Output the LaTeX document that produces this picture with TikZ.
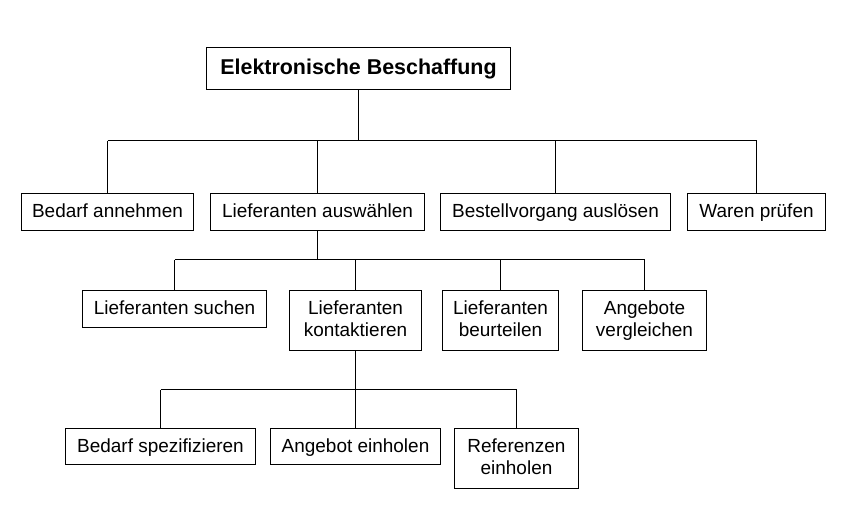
\documentclass[tikz,border=0pt]{standalone}
\usepackage{fontspec}
\setmainfont{Liberation Sans}
\begin{document}
\begin{tikzpicture}[x=0.02cm, y=-0.02cm, line width=0.57pt,
		box/.style={draw, anchor=north, inner sep=0pt, align=center, text depth=0.08cm, font=\fontsize{10.8}{12.5}\selectfont},
		onel/.style={box, text height=0.30cm, minimum height=0.76cm},
		twol/.style={box, minimum height=1.22cm}]
			\useasboundingbox (0,0) rectangle (849,507);
			% Wurzel
			\node[box, text height=0.32cm, minimum width=6.1cm, minimum height=0.86cm, font=\fontsize{12.2}{14}\selectfont\bfseries] (root) at (358.5,46.5) {Elektronische Beschaffung};
			
			% Ebene 1
			\node[onel, minimum width=3.46cm] (bedarf) at (107.5,192.5) {Bedarf annehmen};
			\node[onel, minimum width=4.28cm] (auswahl) at (317.5,192.5) {Lieferanten auswählen};
			\node[onel, minimum width=4.62cm] (bestell) at (555.5,192.5) {Bestellvorgang auslösen};
			\node[onel, minimum width=2.76cm] (waren) at (756.5,192.5) {Waren prüfen};
			
			% Ebene 2
			\node[onel, minimum width=3.68cm] (suchen) at (174.5,289.5) {Lieferanten suchen};
			\node[twol, minimum width=2.66cm] (kontakt) at (355.5,289.5) {Lieferanten\\kontaktieren};
			\node[twol, minimum width=2.34cm] (beurteil) at (500.5,289.5) {Lieferanten\\beurteilen};
			\node[twol, minimum width=2.50cm] (vergleich) at (644.5,289.5) {Angebote\\vergleichen};
			
			% Ebene 3
			\node[onel, minimum width=3.82cm, minimum height=0.74cm] (spezif) at (160.5,427.5) {Bedarf spezifizieren};
			\node[onel, minimum width=3.42cm, minimum height=0.74cm] (angebot) at (355.5,427.5) {Angebot einholen};
			\node[twol, minimum width=2.48cm] (referenz) at (516.5,427.5) {Referenzen\\einholen};
			
			\coordinate (bus1) at (0,140.5);
			\coordinate (bus2) at (0,259.5);
			\coordinate (bus3) at (0,389.5);
			
			% Verbindungen
			\draw (root.south) -- (root.south |- bus1) (bedarf.north |- bus1) -- (waren.north |- bus1)
				foreach \c in {bedarf, auswahl, bestell, waren} {(\c.north) -- (\c.north |- bus1)};
			\draw (auswahl.south) -- (auswahl.south |- bus2) (suchen.north |- bus2) -- (vergleich.north |- bus2)
				foreach \c in {suchen, kontakt, beurteil, vergleich} {(\c.north) -- (\c.north |- bus2)};
			\draw (kontakt.south) -- (kontakt.south |- bus3) (spezif.north |- bus3) -- (referenz.north |- bus3)
				foreach \c in {spezif, angebot, referenz} {(\c.north) -- (\c.north |- bus3)};
		\end{tikzpicture}
\end{document}
